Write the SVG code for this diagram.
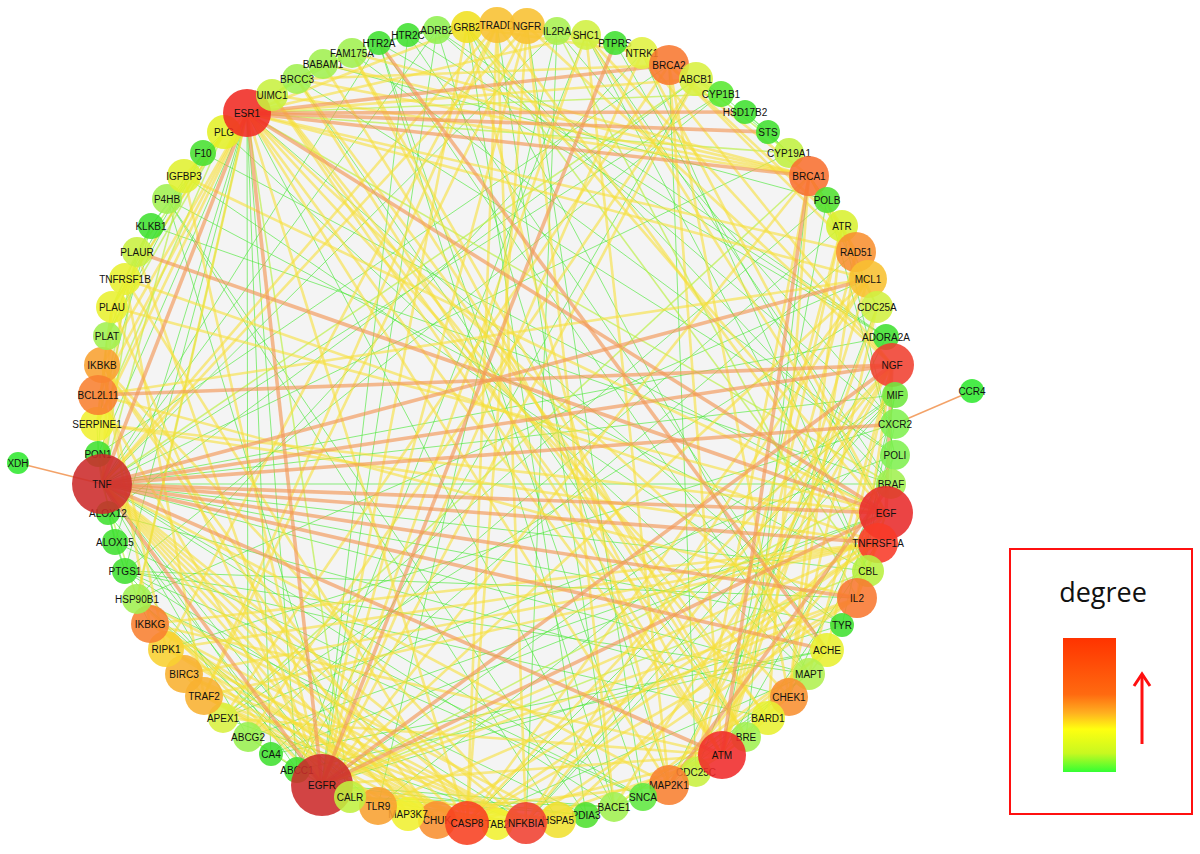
<svg xmlns="http://www.w3.org/2000/svg" width="1200" height="854" viewBox="0 0 1200 854">
<defs>
<style>
.o{stroke:#f29858;stroke-width:3.6;stroke-opacity:.65}
.y{stroke:#f7df3a;stroke-width:2.6;stroke-opacity:.6}
.l{stroke:#b8f040;stroke-width:1.6;stroke-opacity:.65}
.g{stroke:#4ee83a;stroke-width:1;stroke-opacity:.65}
.s{stroke:#f29858;stroke-width:1.5;stroke-opacity:.9}
circle{fill-opacity:.88}
text{font-family:"Liberation Sans",Arial,sans-serif;font-size:10px;text-anchor:middle;fill:#111}
</style>
<linearGradient id="deg" x1="0" y1="0" x2="0" y2="1">
<stop offset="0" stop-color="#ff3300"/>
<stop offset="0.42" stop-color="#ff6a10"/>
<stop offset="0.56" stop-color="#ffb020"/>
<stop offset="0.68" stop-color="#ffff10"/>
<stop offset="0.86" stop-color="#c8f820"/>
<stop offset="1" stop-color="#33ff33"/>
</linearGradient>
</defs>
<rect width="1200" height="854" fill="#ffffff"/>
<circle cx="497" cy="424" r="392" fill="#f3f3f3" fill-opacity="1"/>
<g id="edges">
<!-- green -->
<line class="g" x1="379" y1="43" x2="408" y2="35"/>
<line class="g" x1="379" y1="43" x2="437" y2="30"/>
<line class="g" x1="379" y1="43" x2="809" y2="674"/>
<line class="g" x1="379" y1="43" x2="643" y2="797"/>
<line class="g" x1="379" y1="43" x2="886" y2="337"/>
<line class="g" x1="379" y1="43" x2="102" y2="484"/>
<line class="g" x1="379" y1="43" x2="614" y2="807"/>
<line class="g" x1="408" y1="35" x2="827" y2="650"/>
<line class="g" x1="408" y1="35" x2="886" y2="337"/>
<line class="g" x1="408" y1="35" x2="437" y2="30"/>
<line class="g" x1="408" y1="35" x2="322" y2="785"/>
<line class="g" x1="437" y1="30" x2="886" y2="337"/>
<line class="g" x1="437" y1="30" x2="669" y2="785"/>
<line class="g" x1="437" y1="30" x2="895" y2="424"/>
<line class="g" x1="437" y1="30" x2="102" y2="484"/>
<line class="g" x1="437" y1="30" x2="322" y2="785"/>
<line class="g" x1="557" y1="31" x2="102" y2="484"/>
<line class="g" x1="557" y1="31" x2="895" y2="424"/>
<line class="g" x1="557" y1="31" x2="526" y2="823"/>
<line class="g" x1="586" y1="35" x2="615" y2="43"/>
<line class="g" x1="586" y1="35" x2="868" y2="571"/>
<line class="g" x1="615" y1="43" x2="642" y2="53"/>
<line class="g" x1="615" y1="43" x2="886" y2="513"/>
<line class="g" x1="721" y1="94" x2="789" y2="153"/>
<line class="g" x1="721" y1="94" x2="102" y2="484"/>
<line class="g" x1="721" y1="94" x2="125" y2="571"/>
<line class="g" x1="721" y1="94" x2="696" y2="79"/>
<line class="g" x1="745" y1="112" x2="768" y2="132"/>
<line class="g" x1="745" y1="112" x2="789" y2="153"/>
<line class="g" x1="768" y1="132" x2="789" y2="153"/>
<line class="g" x1="789" y1="153" x2="102" y2="484"/>
<line class="g" x1="827" y1="200" x2="223" y2="718"/>
<line class="g" x1="827" y1="200" x2="895" y2="455"/>
<line class="g" x1="827" y1="200" x2="722" y2="755"/>
<line class="g" x1="827" y1="200" x2="809" y2="176"/>
<line class="g" x1="886" y1="337" x2="102" y2="484"/>
<line class="g" x1="886" y1="337" x2="669" y2="785"/>
<line class="g" x1="895" y1="395" x2="102" y2="484"/>
<line class="g" x1="895" y1="395" x2="526" y2="823"/>
<line class="g" x1="895" y1="395" x2="467" y2="823"/>
<line class="g" x1="895" y1="395" x2="322" y2="785"/>
<line class="g" x1="895" y1="395" x2="857" y2="598"/>
<line class="g" x1="895" y1="395" x2="378" y2="806"/>
<line class="g" x1="895" y1="424" x2="857" y2="598"/>
<line class="g" x1="895" y1="424" x2="526" y2="823"/>
<line class="g" x1="895" y1="424" x2="166" y2="649"/>
<line class="g" x1="895" y1="455" x2="722" y2="755"/>
<line class="g" x1="895" y1="455" x2="842" y2="226"/>
<line class="g" x1="895" y1="455" x2="789" y2="697"/>
<line class="g" x1="895" y1="455" x2="223" y2="718"/>
<line class="g" x1="891" y1="484" x2="892" y2="365"/>
<line class="g" x1="891" y1="484" x2="467" y2="27"/>
<line class="g" x1="891" y1="484" x2="586" y2="35"/>
<line class="g" x1="891" y1="484" x2="102" y2="484"/>
<line class="g" x1="868" y1="571" x2="102" y2="484"/>
<line class="g" x1="868" y1="571" x2="642" y2="53"/>
<line class="g" x1="842" y1="625" x2="102" y2="484"/>
<line class="g" x1="842" y1="625" x2="247" y2="113"/>
<line class="g" x1="842" y1="625" x2="895" y2="395"/>
<line class="g" x1="842" y1="625" x2="322" y2="785"/>
<line class="g" x1="809" y1="674" x2="643" y2="797"/>
<line class="g" x1="809" y1="674" x2="614" y2="807"/>
<line class="g" x1="809" y1="674" x2="669" y2="785"/>
<line class="g" x1="809" y1="674" x2="467" y2="823"/>
<line class="g" x1="809" y1="674" x2="467" y2="27"/>
<line class="g" x1="809" y1="674" x2="102" y2="484"/>
<line class="g" x1="809" y1="674" x2="125" y2="571"/>
<line class="g" x1="746" y1="737" x2="809" y2="176"/>
<line class="g" x1="746" y1="737" x2="297" y2="79"/>
<line class="g" x1="746" y1="737" x2="878" y2="543"/>
<line class="g" x1="696" y1="772" x2="877" y2="307"/>
<line class="g" x1="696" y1="772" x2="669" y2="65"/>
<line class="g" x1="643" y1="797" x2="614" y2="807"/>
<line class="g" x1="643" y1="797" x2="102" y2="484"/>
<line class="g" x1="643" y1="797" x2="125" y2="571"/>
<line class="g" x1="643" y1="797" x2="115" y2="542"/>
<line class="g" x1="643" y1="797" x2="558" y2="820"/>
<line class="g" x1="614" y1="807" x2="102" y2="484"/>
<line class="g" x1="614" y1="807" x2="322" y2="785"/>
<line class="g" x1="614" y1="807" x2="247" y2="113"/>
<line class="g" x1="614" y1="807" x2="350" y2="797"/>
<line class="g" x1="614" y1="807" x2="586" y2="815"/>
<line class="g" x1="586" y1="815" x2="350" y2="797"/>
<line class="g" x1="586" y1="815" x2="558" y2="820"/>
<line class="g" x1="586" y1="815" x2="322" y2="785"/>
<line class="g" x1="586" y1="815" x2="167" y2="199"/>
<line class="g" x1="586" y1="815" x2="137" y2="599"/>
<line class="g" x1="558" y1="820" x2="167" y2="199"/>
<line class="g" x1="350" y1="797" x2="167" y2="199"/>
<line class="g" x1="350" y1="797" x2="137" y2="599"/>
<line class="g" x1="350" y1="797" x2="102" y2="484"/>
<line class="g" x1="297" y1="770" x2="248" y2="737"/>
<line class="g" x1="297" y1="770" x2="696" y2="79"/>
<line class="g" x1="297" y1="770" x2="247" y2="113"/>
<line class="g" x1="297" y1="770" x2="102" y2="484"/>
<line class="g" x1="271" y1="754" x2="247" y2="113"/>
<line class="g" x1="271" y1="754" x2="886" y2="513"/>
<line class="g" x1="271" y1="754" x2="827" y2="650"/>
<line class="g" x1="248" y1="737" x2="247" y2="113"/>
<line class="g" x1="248" y1="737" x2="102" y2="484"/>
<line class="g" x1="248" y1="737" x2="886" y2="513"/>
<line class="g" x1="223" y1="718" x2="526" y2="823"/>
<line class="g" x1="137" y1="599" x2="378" y2="806"/>
<line class="g" x1="137" y1="599" x2="150" y2="624"/>
<line class="g" x1="125" y1="571" x2="115" y2="542"/>
<line class="g" x1="125" y1="571" x2="108" y2="513"/>
<line class="g" x1="125" y1="571" x2="247" y2="113"/>
<line class="g" x1="125" y1="571" x2="526" y2="823"/>
<line class="g" x1="125" y1="571" x2="322" y2="785"/>
<line class="g" x1="125" y1="571" x2="857" y2="598"/>
<line class="g" x1="115" y1="542" x2="108" y2="513"/>
<line class="g" x1="115" y1="542" x2="98" y2="454"/>
<line class="g" x1="115" y1="542" x2="247" y2="113"/>
<line class="g" x1="108" y1="513" x2="322" y2="785"/>
<line class="g" x1="98" y1="454" x2="97" y2="424"/>
<line class="g" x1="98" y1="454" x2="247" y2="113"/>
<line class="g" x1="98" y1="454" x2="107" y2="336"/>
<line class="g" x1="97" y1="424" x2="151" y2="226"/>
<line class="g" x1="107" y1="336" x2="203" y2="153"/>
<line class="g" x1="107" y1="336" x2="151" y2="226"/>
<line class="g" x1="112" y1="307" x2="151" y2="226"/>
<line class="g" x1="112" y1="307" x2="203" y2="153"/>
<line class="g" x1="137" y1="252" x2="151" y2="226"/>
<line class="g" x1="151" y1="226" x2="203" y2="153"/>
<line class="g" x1="151" y1="226" x2="224" y2="132"/>
<line class="g" x1="203" y1="153" x2="224" y2="132"/>
<line class="g" x1="203" y1="153" x2="886" y2="513"/>
<line class="g" x1="151" y1="226" x2="891" y2="484"/>
<line class="g" x1="167" y1="199" x2="868" y2="571"/>
<line class="g" x1="184" y1="176" x2="842" y2="625"/>
<line class="g" x1="224" y1="132" x2="809" y2="674"/>
<line class="g" x1="297" y1="79" x2="895" y2="455"/>
<line class="g" x1="323" y1="64" x2="827" y2="200"/>
<line class="g" x1="352" y1="53" x2="895" y2="455"/>
<line class="g" x1="642" y1="53" x2="137" y2="599"/>
<line class="g" x1="696" y1="79" x2="108" y2="513"/>
<line class="g" x1="669" y1="65" x2="98" y2="454"/>
<line class="g" x1="557" y1="31" x2="378" y2="806"/>
<line class="g" x1="586" y1="35" x2="297" y2="770"/>
<line class="g" x1="497" y1="25" x2="614" y2="807"/>
<line class="g" x1="527" y1="26" x2="643" y2="797"/>
<line class="g" x1="467" y1="27" x2="586" y2="815"/>
<line class="g" x1="868" y1="279" x2="137" y2="599"/>
<line class="g" x1="877" y1="307" x2="223" y2="718"/>
<line class="g" x1="842" y1="226" x2="248" y2="737"/>
<line class="g" x1="856" y1="252" x2="271" y2="754"/>
<line class="g" x1="827" y1="650" x2="297" y2="770"/>
<line class="g" x1="768" y1="718" x2="125" y2="571"/>
<line class="g" x1="789" y1="697" x2="108" y2="513"/>
<!-- lime -->
<line class="l" x1="272" y1="95" x2="297" y2="79"/>
<line class="l" x1="272" y1="95" x2="323" y2="64"/>
<line class="l" x1="272" y1="95" x2="352" y2="53"/>
<line class="l" x1="297" y1="79" x2="352" y2="53"/>
<line class="l" x1="297" y1="79" x2="323" y2="64"/>
<line class="l" x1="323" y1="64" x2="352" y2="53"/>
<line class="l" x1="586" y1="35" x2="642" y2="53"/>
<line class="l" x1="696" y1="79" x2="789" y2="153"/>
<line class="l" x1="97" y1="424" x2="107" y2="336"/>
<line class="l" x1="97" y1="424" x2="137" y2="252"/>
<line class="l" x1="97" y1="424" x2="224" y2="132"/>
<line class="l" x1="107" y1="336" x2="224" y2="132"/>
<line class="l" x1="112" y1="307" x2="137" y2="252"/>
<line class="l" x1="112" y1="307" x2="107" y2="336"/>
<line class="l" x1="137" y1="252" x2="224" y2="132"/>
<line class="l" x1="137" y1="252" x2="102" y2="484"/>
<line class="l" x1="184" y1="176" x2="102" y2="484"/>
<line class="l" x1="224" y1="132" x2="112" y2="307"/>
<line class="l" x1="868" y1="571" x2="886" y2="513"/>
<line class="l" x1="809" y1="674" x2="827" y2="650"/>
<line class="l" x1="350" y1="797" x2="526" y2="823"/>
<line class="l" x1="350" y1="797" x2="247" y2="113"/>
<line class="l" x1="137" y1="599" x2="247" y2="113"/>
<line class="l" x1="137" y1="599" x2="102" y2="484"/>
<line class="l" x1="696" y1="772" x2="722" y2="755"/>
<line class="l" x1="746" y1="737" x2="722" y2="755"/>
<line class="l" x1="223" y1="718" x2="809" y2="176"/>
<line class="l" x1="877" y1="307" x2="809" y2="176"/>
<line class="l" x1="877" y1="307" x2="842" y2="226"/>
<line class="l" x1="789" y1="153" x2="247" y2="113"/>
<line class="l" x1="721" y1="94" x2="247" y2="113"/>
<line class="l" x1="696" y1="79" x2="102" y2="484"/>
<line class="l" x1="557" y1="31" x2="857" y2="598"/>
<line class="l" x1="868" y1="571" x2="322" y2="785"/>
<line class="l" x1="868" y1="571" x2="467" y2="27"/>
<line class="l" x1="891" y1="484" x2="322" y2="785"/>
<line class="l" x1="891" y1="484" x2="247" y2="113"/>
<line class="l" x1="248" y1="737" x2="322" y2="785"/>
<line class="l" x1="98" y1="454" x2="102" y2="484"/>
<!-- yellow -->
<line class="y" x1="497" y1="25" x2="878" y2="543"/>
<line class="y" x1="497" y1="25" x2="102" y2="484"/>
<line class="y" x1="497" y1="25" x2="467" y2="823"/>
<line class="y" x1="497" y1="25" x2="166" y2="649"/>
<line class="y" x1="497" y1="25" x2="204" y2="696"/>
<line class="y" x1="497" y1="25" x2="526" y2="823"/>
<line class="y" x1="527" y1="26" x2="892" y2="365"/>
<line class="y" x1="527" y1="26" x2="642" y2="53"/>
<line class="y" x1="527" y1="26" x2="102" y2="484"/>
<line class="y" x1="527" y1="26" x2="204" y2="696"/>
<line class="y" x1="527" y1="26" x2="467" y2="823"/>
<line class="y" x1="527" y1="26" x2="614" y2="807"/>
<line class="y" x1="527" y1="26" x2="322" y2="785"/>
<line class="y" x1="467" y1="27" x2="322" y2="785"/>
<line class="y" x1="467" y1="27" x2="886" y2="513"/>
<line class="y" x1="467" y1="27" x2="586" y2="35"/>
<line class="y" x1="467" y1="27" x2="642" y2="53"/>
<line class="y" x1="586" y1="35" x2="322" y2="785"/>
<line class="y" x1="586" y1="35" x2="886" y2="513"/>
<line class="y" x1="586" y1="35" x2="892" y2="365"/>
<line class="y" x1="642" y1="53" x2="892" y2="365"/>
<line class="y" x1="642" y1="53" x2="322" y2="785"/>
<line class="y" x1="669" y1="65" x2="856" y2="252"/>
<line class="y" x1="669" y1="65" x2="842" y2="226"/>
<line class="y" x1="669" y1="65" x2="789" y2="697"/>
<line class="y" x1="669" y1="65" x2="297" y2="79"/>
<line class="y" x1="669" y1="65" x2="223" y2="718"/>
<line class="y" x1="696" y1="79" x2="322" y2="785"/>
<line class="y" x1="696" y1="79" x2="247" y2="113"/>
<line class="y" x1="696" y1="79" x2="248" y2="737"/>
<line class="y" x1="809" y1="176" x2="768" y2="718"/>
<line class="y" x1="809" y1="176" x2="272" y2="95"/>
<line class="y" x1="809" y1="176" x2="297" y2="79"/>
<line class="y" x1="809" y1="176" x2="323" y2="64"/>
<line class="y" x1="809" y1="176" x2="352" y2="53"/>
<line class="y" x1="809" y1="176" x2="842" y2="226"/>
<line class="y" x1="809" y1="176" x2="696" y2="772"/>
<line class="y" x1="809" y1="176" x2="856" y2="252"/>
<line class="y" x1="842" y1="226" x2="789" y2="697"/>
<line class="y" x1="842" y1="226" x2="722" y2="755"/>
<line class="y" x1="842" y1="226" x2="856" y2="252"/>
<line class="y" x1="856" y1="252" x2="789" y2="697"/>
<line class="y" x1="856" y1="252" x2="247" y2="113"/>
<line class="y" x1="868" y1="279" x2="467" y2="823"/>
<line class="y" x1="868" y1="279" x2="98" y2="395"/>
<line class="y" x1="868" y1="279" x2="322" y2="785"/>
<line class="y" x1="868" y1="279" x2="247" y2="113"/>
<line class="y" x1="868" y1="279" x2="722" y2="755"/>
<line class="y" x1="868" y1="279" x2="526" y2="823"/>
<line class="y" x1="877" y1="307" x2="789" y2="697"/>
<line class="y" x1="877" y1="307" x2="722" y2="755"/>
<line class="y" x1="892" y1="365" x2="526" y2="823"/>
<line class="y" x1="892" y1="365" x2="467" y2="823"/>
<line class="y" x1="892" y1="365" x2="857" y2="598"/>
<line class="y" x1="892" y1="365" x2="809" y2="674"/>
<line class="y" x1="892" y1="365" x2="827" y2="650"/>
<line class="y" x1="892" y1="365" x2="614" y2="807"/>
<line class="y" x1="886" y1="513" x2="857" y2="598"/>
<line class="y" x1="886" y1="513" x2="112" y2="307"/>
<line class="y" x1="886" y1="513" x2="97" y2="424"/>
<line class="y" x1="886" y1="513" x2="184" y2="176"/>
<line class="y" x1="886" y1="513" x2="558" y2="820"/>
<line class="y" x1="886" y1="513" x2="642" y2="53"/>
<line class="y" x1="878" y1="543" x2="204" y2="696"/>
<line class="y" x1="878" y1="543" x2="166" y2="649"/>
<line class="y" x1="878" y1="543" x2="184" y2="674"/>
<line class="y" x1="878" y1="543" x2="150" y2="624"/>
<line class="y" x1="878" y1="543" x2="125" y2="279"/>
<line class="y" x1="878" y1="543" x2="437" y2="820"/>
<line class="y" x1="857" y1="598" x2="526" y2="823"/>
<line class="y" x1="857" y1="598" x2="467" y2="823"/>
<line class="y" x1="857" y1="598" x2="378" y2="806"/>
<line class="y" x1="857" y1="598" x2="98" y2="395"/>
<line class="y" x1="857" y1="598" x2="878" y2="543"/>
<line class="y" x1="827" y1="650" x2="614" y2="807"/>
<line class="y" x1="827" y1="650" x2="643" y2="797"/>
<line class="y" x1="827" y1="650" x2="247" y2="113"/>
<line class="y" x1="789" y1="697" x2="696" y2="772"/>
<line class="y" x1="789" y1="697" x2="247" y2="113"/>
<line class="y" x1="768" y1="718" x2="722" y2="755"/>
<line class="y" x1="768" y1="718" x2="297" y2="79"/>
<line class="y" x1="768" y1="718" x2="272" y2="95"/>
<line class="y" x1="746" y1="737" x2="323" y2="64"/>
<line class="y" x1="746" y1="737" x2="272" y2="95"/>
<line class="y" x1="746" y1="737" x2="352" y2="53"/>
<line class="y" x1="722" y1="755" x2="352" y2="53"/>
<line class="y" x1="722" y1="755" x2="272" y2="95"/>
<line class="y" x1="722" y1="755" x2="297" y2="79"/>
<line class="y" x1="722" y1="755" x2="223" y2="718"/>
<line class="y" x1="722" y1="755" x2="526" y2="823"/>
<line class="y" x1="722" y1="755" x2="150" y2="624"/>
<line class="y" x1="722" y1="755" x2="467" y2="823"/>
<line class="y" x1="696" y1="772" x2="842" y2="226"/>
<line class="y" x1="669" y1="785" x2="586" y2="35"/>
<line class="y" x1="669" y1="785" x2="467" y2="27"/>
<line class="y" x1="669" y1="785" x2="892" y2="365"/>
<line class="y" x1="669" y1="785" x2="408" y2="814"/>
<line class="y" x1="669" y1="785" x2="247" y2="113"/>
<line class="y" x1="669" y1="785" x2="102" y2="484"/>
<line class="y" x1="558" y1="820" x2="350" y2="797"/>
<line class="y" x1="558" y1="820" x2="137" y2="599"/>
<line class="y" x1="558" y1="820" x2="467" y2="823"/>
<line class="y" x1="558" y1="820" x2="322" y2="785"/>
<line class="y" x1="526" y1="823" x2="437" y2="820"/>
<line class="y" x1="526" y1="823" x2="166" y2="649"/>
<line class="y" x1="526" y1="823" x2="204" y2="696"/>
<line class="y" x1="526" y1="823" x2="184" y2="674"/>
<line class="y" x1="526" y1="823" x2="408" y2="814"/>
<line class="y" x1="526" y1="823" x2="378" y2="806"/>
<line class="y" x1="526" y1="823" x2="497" y2="824"/>
<line class="y" x1="467" y1="823" x2="166" y2="649"/>
<line class="y" x1="467" y1="823" x2="204" y2="696"/>
<line class="y" x1="467" y1="823" x2="184" y2="674"/>
<line class="y" x1="467" y1="823" x2="150" y2="624"/>
<line class="y" x1="467" y1="823" x2="125" y2="279"/>
<line class="y" x1="467" y1="823" x2="378" y2="806"/>
<line class="y" x1="467" y1="823" x2="247" y2="113"/>
<line class="y" x1="437" y1="820" x2="102" y2="365"/>
<line class="y" x1="437" y1="820" x2="150" y2="624"/>
<line class="y" x1="437" y1="820" x2="102" y2="484"/>
<line class="y" x1="437" y1="820" x2="204" y2="696"/>
<line class="y" x1="408" y1="814" x2="497" y2="824"/>
<line class="y" x1="408" y1="814" x2="204" y2="696"/>
<line class="y" x1="408" y1="814" x2="102" y2="365"/>
<line class="y" x1="408" y1="814" x2="102" y2="484"/>
<line class="y" x1="497" y1="824" x2="102" y2="484"/>
<line class="y" x1="378" y1="806" x2="102" y2="484"/>
<line class="y" x1="322" y1="785" x2="137" y2="599"/>
<line class="y" x1="322" y1="785" x2="184" y2="176"/>
<line class="y" x1="322" y1="785" x2="137" y2="252"/>
<line class="y" x1="322" y1="785" x2="112" y2="307"/>
<line class="y" x1="322" y1="785" x2="467" y2="823"/>
<line class="y" x1="322" y1="785" x2="878" y2="543"/>
<line class="y" x1="322" y1="785" x2="857" y2="598"/>
<line class="y" x1="204" y1="696" x2="184" y2="674"/>
<line class="y" x1="204" y1="696" x2="125" y2="279"/>
<line class="y" x1="166" y1="649" x2="102" y2="365"/>
<line class="y" x1="150" y1="624" x2="102" y2="365"/>
<line class="y" x1="98" y1="395" x2="247" y2="113"/>
<line class="y" x1="98" y1="395" x2="322" y2="785"/>
<line class="y" x1="102" y1="365" x2="247" y2="113"/>
<line class="y" x1="97" y1="424" x2="112" y2="307"/>
<line class="y" x1="97" y1="424" x2="247" y2="113"/>
<line class="y" x1="112" y1="307" x2="224" y2="132"/>
<line class="y" x1="125" y1="279" x2="102" y2="484"/>
<line class="y" x1="184" y1="176" x2="247" y2="113"/>
<line class="y" x1="247" y1="113" x2="467" y2="27"/>
<line class="y" x1="247" y1="113" x2="586" y2="35"/>
<line class="y" x1="247" y1="113" x2="137" y2="599"/>
<line class="y" x1="112" y1="307" x2="102" y2="484"/>
<line class="y" x1="97" y1="424" x2="878" y2="543"/>
<line class="y" x1="322" y1="785" x2="722" y2="755"/>
<line class="y" x1="322" y1="785" x2="809" y2="176"/>
<line class="y" x1="247" y1="113" x2="722" y2="755"/>
<line class="y" x1="722" y1="755" x2="669" y2="65"/>
<line class="y" x1="809" y1="176" x2="669" y2="65"/>
<line class="y" x1="467" y1="823" x2="878" y2="543"/>
<line class="y" x1="526" y1="823" x2="150" y2="624"/>
<line class="y" x1="102" y1="365" x2="526" y2="823"/>
<line class="y" x1="669" y1="785" x2="886" y2="513"/>
<line class="y" x1="102" y1="484" x2="467" y2="823"/>
<line class="y" x1="102" y1="484" x2="526" y2="823"/>
<line class="y" x1="722" y1="755" x2="856" y2="252"/>
<!-- orange -->
<line class="o" x1="102" y1="484" x2="878" y2="543"/>
<line class="o" x1="102" y1="484" x2="886" y2="513"/>
<line class="o" x1="102" y1="484" x2="892" y2="365"/>
<line class="o" x1="102" y1="484" x2="857" y2="598"/>
<line class="o" x1="102" y1="484" x2="827" y2="650"/>
<line class="o" x1="102" y1="484" x2="722" y2="755"/>
<line class="o" x1="102" y1="484" x2="322" y2="785"/>
<line class="o" x1="102" y1="484" x2="247" y2="113"/>
<line class="o" x1="102" y1="484" x2="895" y2="424"/>
<line class="o" x1="102" y1="484" x2="868" y2="279"/>
<line class="o" x1="322" y1="785" x2="886" y2="513"/>
<line class="o" x1="322" y1="785" x2="247" y2="113"/>
<line class="o" x1="322" y1="785" x2="615" y2="43"/>
<line class="o" x1="322" y1="785" x2="892" y2="365"/>
<line class="o" x1="247" y1="113" x2="809" y2="176"/>
<line class="o" x1="247" y1="113" x2="669" y2="65"/>
<line class="o" x1="247" y1="113" x2="745" y2="112"/>
<line class="o" x1="247" y1="113" x2="768" y2="132"/>
<line class="o" x1="247" y1="113" x2="886" y2="513"/>
<line class="o" x1="379" y1="43" x2="827" y2="650"/>
<line class="o" x1="722" y1="755" x2="809" y2="176"/>
<line class="o" x1="886" y1="513" x2="892" y2="365"/>
<line class="o" x1="98" y1="395" x2="892" y2="365"/>
<line class="o" x1="669" y1="785" x2="891" y2="484"/>
<line class="o" x1="137" y1="252" x2="886" y2="513"/>
<line class="s" x1="18" y1="463" x2="102" y2="484"/>
<line class="s" x1="972" y1="391" x2="895" y2="424"/>
</g>
<g id="nodes">
<g id="n-XDH"><circle cx="18" cy="463" r="11" fill="#30e830"/><text x="18" y="467">XDH</text></g>
<g id="n-CCR4"><circle cx="972" cy="391" r="12" fill="#30e830"/><text x="972" y="395">CCR4</text></g>
<g id="n-PLG"><circle cx="224" cy="132" r="17" fill="#e4f028"/><text x="224" y="136">PLG</text></g>
<g id="n-ESR1"><circle cx="247" cy="113" r="24" fill="#f02a22"/><text x="247" y="117">ESR1</text></g>
<g id="n-UIMC1"><circle cx="272" cy="95" r="16" fill="#c8f040"/><text x="272" y="99">UIMC1</text></g>
<g id="n-F10"><circle cx="203" cy="153" r="13" fill="#48e030"/><text x="203" y="157">F10</text></g>
<g id="n-BRCC3"><circle cx="297" cy="79" r="15" fill="#a0f050"/><text x="297" y="83">BRCC3</text></g>
<g id="n-BABAM1"><circle cx="323" cy="64" r="15" fill="#a0f050"/><text x="323" y="68">BABAM1</text></g>
<g id="n-FAM175A"><circle cx="352" cy="53" r="15" fill="#a0f050"/><text x="352" y="57">FAM175A</text></g>
<g id="n-HTR2A"><circle cx="379" cy="43" r="12" fill="#40e030"/><text x="379" y="47">HTR2A</text></g>
<g id="n-HTR2C"><circle cx="408" cy="35" r="12" fill="#40e030"/><text x="408" y="39">HTR2C</text></g>
<g id="n-ADRB2"><circle cx="437" cy="30" r="14" fill="#90f050"/><text x="437" y="34">ADRB2</text></g>
<g id="n-GRB2"><circle cx="467" cy="27" r="16" fill="#f0e020"/><text x="467" y="31">GRB2</text></g>
<g id="n-TRADD"><circle cx="497" cy="25" r="18" fill="#f8c030"/><text x="497" y="29">TRADD</text></g>
<g id="n-NGFR"><circle cx="527" cy="26" r="18" fill="#f8c030"/><text x="527" y="30">NGFR</text></g>
<g id="n-IL2RA"><circle cx="557" cy="31" r="14" fill="#a8f050"/><text x="557" y="35">IL2RA</text></g>
<g id="n-SHC1"><circle cx="586" cy="35" r="15" fill="#d0f040"/><text x="586" y="39">SHC1</text></g>
<g id="n-PTPRS"><circle cx="615" cy="43" r="12" fill="#40e030"/><text x="615" y="47">PTPRS</text></g>
<g id="n-NTRK1"><circle cx="642" cy="53" r="16" fill="#e0f040"/><text x="642" y="57">NTRK1</text></g>
<g id="n-BRCA2"><circle cx="669" cy="65" r="20" fill="#f87830"/><text x="669" y="69">BRCA2</text></g>
<g id="n-ABCB1"><circle cx="696" cy="79" r="17" fill="#d8f040"/><text x="696" y="83">ABCB1</text></g>
<g id="n-CYP1B1"><circle cx="721" cy="94" r="13" fill="#58e830"/><text x="721" y="98">CYP1B1</text></g>
<g id="n-HSD17B2"><circle cx="745" cy="112" r="12" fill="#40e030"/><text x="745" y="116">HSD17B2</text></g>
<g id="n-STS"><circle cx="768" cy="132" r="12" fill="#40e030"/><text x="768" y="136">STS</text></g>
<g id="n-CYP19A1"><circle cx="789" cy="153" r="15" fill="#c0f040"/><text x="789" y="157">CYP19A1</text></g>
<g id="n-BRCA1"><circle cx="809" cy="176" r="20" fill="#f87030"/><text x="809" y="180">BRCA1</text></g>
<g id="n-POLB"><circle cx="827" cy="200" r="13" fill="#50e030"/><text x="827" y="204">POLB</text></g>
<g id="n-ATR"><circle cx="842" cy="226" r="16" fill="#d8f030"/><text x="842" y="230">ATR</text></g>
<g id="n-RAD51"><circle cx="856" cy="252" r="20" fill="#f89030"/><text x="856" y="256">RAD51</text></g>
<g id="n-MCL1"><circle cx="868" cy="279" r="19" fill="#f8c030"/><text x="868" y="283">MCL1</text></g>
<g id="n-CDC25A"><circle cx="877" cy="307" r="16" fill="#d0f040"/><text x="877" y="311">CDC25A</text></g>
<g id="n-ADORA2A"><circle cx="886" cy="337" r="13" fill="#40e030"/><text x="886" y="341">ADORA2A</text></g>
<g id="n-NGF"><circle cx="892" cy="365" r="22" fill="#f04030"/><text x="892" y="369">NGF</text></g>
<g id="n-MIF"><circle cx="895" cy="395" r="13" fill="#70e840"/><text x="895" y="399">MIF</text></g>
<g id="n-CXCR2"><circle cx="895" cy="424" r="15" fill="#80f050"/><text x="895" y="428">CXCR2</text></g>
<g id="n-POLI"><circle cx="895" cy="455" r="15" fill="#80f050"/><text x="895" y="459">POLI</text></g>
<g id="n-BRAF"><circle cx="891" cy="484" r="15" fill="#a0f050"/><text x="891" y="488">BRAF</text></g>
<g id="n-EGF"><circle cx="886" cy="513" r="27" fill="#e82a2a"/><text x="886" y="517">EGF</text></g>
<g id="n-TNFRSF1A"><circle cx="878" cy="543" r="20" fill="#f83a28"/><text x="878" y="547">TNFRSF1A</text></g>
<g id="n-CBL"><circle cx="868" cy="571" r="16" fill="#b8f040"/><text x="868" y="575">CBL</text></g>
<g id="n-IL2"><circle cx="857" cy="598" r="20" fill="#f87830"/><text x="857" y="602">IL2</text></g>
<g id="n-TYR"><circle cx="842" cy="625" r="12" fill="#40e030"/><text x="842" y="629">TYR</text></g>
<g id="n-ACHE"><circle cx="827" cy="650" r="17" fill="#e8f030"/><text x="827" y="654">ACHE</text></g>
<g id="n-MAPT"><circle cx="809" cy="674" r="16" fill="#b0f050"/><text x="809" y="678">MAPT</text></g>
<g id="n-CHEK1"><circle cx="789" cy="697" r="19" fill="#f89030"/><text x="789" y="701">CHEK1</text></g>
<g id="n-BARD1"><circle cx="768" cy="718" r="17" fill="#e8f030"/><text x="768" y="722">BARD1</text></g>
<g id="n-BRE"><circle cx="746" cy="737" r="15" fill="#a0f050"/><text x="746" y="741">BRE</text></g>
<g id="n-CDC25C"><circle cx="696" cy="772" r="15" fill="#c8f040"/><text x="696" y="776">CDC25C</text></g>
<g id="n-ATM"><circle cx="722" cy="755" r="24" fill="#f02a2a"/><text x="722" y="759">ATM</text></g>
<g id="n-MAP2K1"><circle cx="669" cy="785" r="20" fill="#f88030"/><text x="669" y="789">MAP2K1</text></g>
<g id="n-SNCA"><circle cx="643" cy="797" r="14" fill="#60e840"/><text x="643" y="801">SNCA</text></g>
<g id="n-BACE1"><circle cx="614" cy="807" r="15" fill="#a0f050"/><text x="614" y="811">BACE1</text></g>
<g id="n-PDIA3"><circle cx="586" cy="815" r="13" fill="#50e030"/><text x="586" y="819">PDIA3</text></g>
<g id="n-HSPA5"><circle cx="558" cy="820" r="18" fill="#f0e030"/><text x="558" y="824">HSPA5</text></g>
<g id="n-TAB2"><circle cx="497" cy="824" r="16" fill="#f0f030"/><text x="497" y="828">TAB2</text></g>
<g id="n-NFKBIA"><circle cx="526" cy="823" r="21" fill="#f04030"/><text x="526" y="827">NFKBIA</text></g>
<g id="n-CHUK"><circle cx="437" cy="820" r="19" fill="#f89030"/><text x="437" y="824">CHUK</text></g>
<g id="n-CASP8"><circle cx="467" cy="823" r="22" fill="#f84020"/><text x="467" y="827">CASP8</text></g>
<g id="n-MAP3K7"><circle cx="408" cy="814" r="17" fill="#f0f030"/><text x="408" y="818">MAP3K7</text></g>
<g id="n-TLR9"><circle cx="378" cy="806" r="19" fill="#f8a030"/><text x="378" y="810">TLR9</text></g>
<g id="n-ABCC1"><circle cx="297" cy="770" r="13" fill="#40e030"/><text x="297" y="774">ABCC1</text></g>
<g id="n-EGFR"><circle cx="322" cy="785" r="31" fill="#cc2a2a"/><text x="322" y="789">EGFR</text></g>
<g id="n-CALR"><circle cx="350" cy="797" r="16" fill="#c0f040"/><text x="350" y="801">CALR</text></g>
<g id="n-CA4"><circle cx="271" cy="754" r="12" fill="#40e030"/><text x="271" y="758">CA4</text></g>
<g id="n-ABCG2"><circle cx="248" cy="737" r="15" fill="#98f050"/><text x="248" y="741">ABCG2</text></g>
<g id="n-APEX1"><circle cx="223" cy="718" r="15" fill="#d8f040"/><text x="223" y="722">APEX1</text></g>
<g id="n-TRAF2"><circle cx="204" cy="696" r="19" fill="#f8b030"/><text x="204" y="700">TRAF2</text></g>
<g id="n-BIRC3"><circle cx="184" cy="674" r="19" fill="#f8b030"/><text x="184" y="678">BIRC3</text></g>
<g id="n-RIPK1"><circle cx="166" cy="649" r="18" fill="#f8d030"/><text x="166" y="653">RIPK1</text></g>
<g id="n-IKBKG"><circle cx="150" cy="624" r="19" fill="#f88030"/><text x="150" y="628">IKBKG</text></g>
<g id="n-HSP90B1"><circle cx="137" cy="599" r="15" fill="#a0f050"/><text x="137" y="603">HSP90B1</text></g>
<g id="n-PTGS1"><circle cx="125" cy="571" r="13" fill="#40e030"/><text x="125" y="575">PTGS1</text></g>
<g id="n-ALOX15"><circle cx="115" cy="542" r="13" fill="#40e030"/><text x="115" y="546">ALOX15</text></g>
<g id="n-ALOX12"><circle cx="108" cy="513" r="12" fill="#40e030"/><text x="108" y="517">ALOX12</text></g>
<g id="n-PON1"><circle cx="98" cy="454" r="13" fill="#40e030"/><text x="98" y="458">PON1</text></g>
<g id="n-TNF"><circle cx="102" cy="484" r="30" fill="#cc2a2a"/><text x="102" y="488">TNF</text></g>
<g id="n-SERPINE1"><circle cx="97" cy="424" r="17" fill="#f0f030"/><text x="97" y="428">SERPINE1</text></g>
<g id="n-IKBKB"><circle cx="102" cy="365" r="18" fill="#f8a030"/><text x="102" y="369">IKBKB</text></g>
<g id="n-BCL2L11"><circle cx="98" cy="395" r="20" fill="#f88030"/><text x="98" y="399">BCL2L11</text></g>
<g id="n-PLAT"><circle cx="107" cy="336" r="14" fill="#a0f050"/><text x="107" y="340">PLAT</text></g>
<g id="n-PLAU"><circle cx="112" cy="307" r="16" fill="#e8f030"/><text x="112" y="311">PLAU</text></g>
<g id="n-TNFRSF1B"><circle cx="125" cy="279" r="16" fill="#e8f030"/><text x="125" y="283">TNFRSF1B</text></g>
<g id="n-PLAUR"><circle cx="137" cy="252" r="15" fill="#c8f040"/><text x="137" y="256">PLAUR</text></g>
<g id="n-KLKB1"><circle cx="151" cy="226" r="13" fill="#40e030"/><text x="151" y="230">KLKB1</text></g>
<g id="n-P4HB"><circle cx="167" cy="199" r="15" fill="#a0f050"/><text x="167" y="203">P4HB</text></g>
<g id="n-IGFBP3"><circle cx="184" cy="176" r="17" fill="#e0f030"/><text x="184" y="180">IGFBP3</text></g>
</g>
<g id="legend">
<rect x="1010" y="549" width="182" height="265" fill="#ffffff" stroke="#ff1010" stroke-width="2"/>
<text x="1103" y="602" style="font-family:'Open Sans','Noto Sans',sans-serif;font-size:27px;fill:#111">degree</text>
<rect x="1063" y="638" width="53" height="134" fill="url(#deg)"/>
<line x1="1142" y1="744" x2="1142" y2="675" stroke="#ff1010" stroke-width="3"/>
<polyline points="1134,686 1142,674 1150,686" fill="none" stroke="#ff1010" stroke-width="3"/>
</g>
</svg>
